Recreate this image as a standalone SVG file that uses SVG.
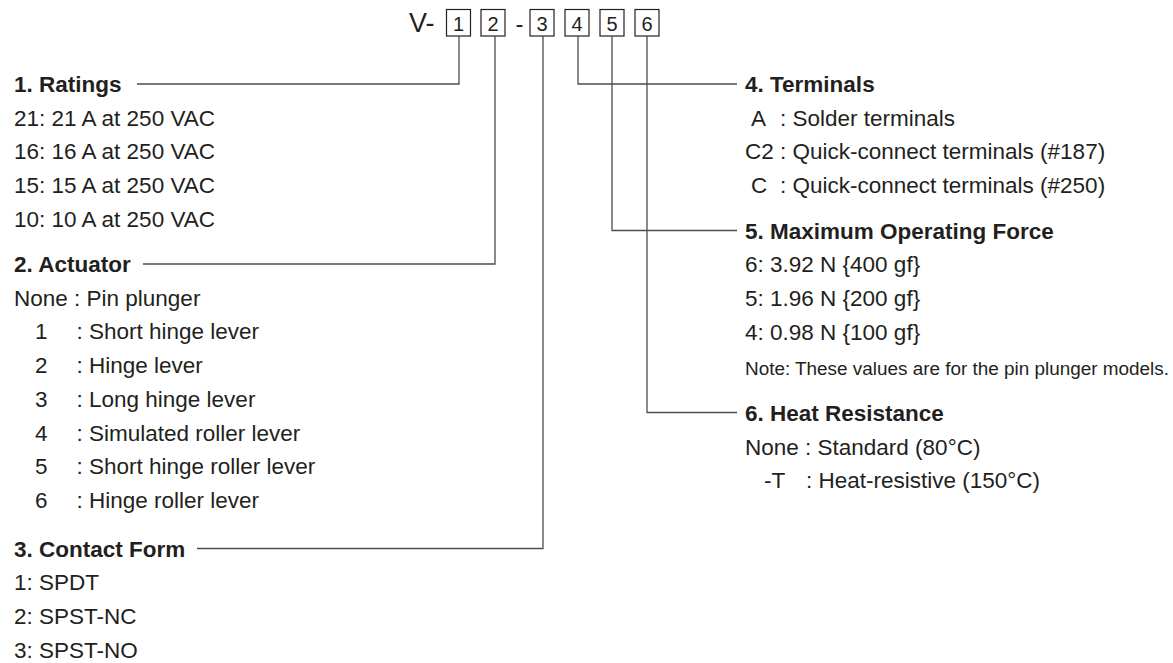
<svg xmlns="http://www.w3.org/2000/svg" width="1173" height="663" viewBox="0 0 1173 663">
<style>
text{font-family:"Liberation Sans",Arial,Helvetica,sans-serif;fill:#231f20;}
.t{font-size:22.5px;}
.h{font-size:22.5px;font-weight:bold;}
.n{font-size:18.9px;}
.code{font-size:27px;}
.dig{font-size:20px;text-anchor:middle;}
.box{fill:none;stroke:#231f20;stroke-width:1.2;}
.ln{fill:none;stroke:#4d4d4d;stroke-width:1.3;}
</style>
<rect width="1173" height="663" fill="#ffffff"/>
<g id="code">
<text class="code" x="409" y="32">V-</text>
<rect class="box" x="446.5" y="9.5" width="24" height="26.5"/>
<rect class="box" x="481" y="9.5" width="24" height="26.5"/>
<text class="code" x="515.5" y="32" style="font-size:24px">-</text>
<rect class="box" x="530" y="9.5" width="24" height="26.5"/>
<rect class="box" x="565" y="9.5" width="24" height="26.5"/>
<rect class="box" x="600" y="9.5" width="24" height="26.5"/>
<rect class="box" x="635" y="9.5" width="24" height="26.5"/>
<text class="dig" x="458.5" y="31">1</text>
<text class="dig" x="493" y="31">2</text>
<text class="dig" x="542" y="31">3</text>
<text class="dig" x="577" y="31">4</text>
<text class="dig" x="612" y="31">5</text>
<text class="dig" x="647" y="31">6</text>
</g>
<g id="connectors">
<polyline class="ln" points="459,36 459,84 137,84"/>
<polyline class="ln" points="495,36 495,264 143,264"/>
<polyline class="ln" points="543,36 543,548.5 197,548.5"/>
<polyline class="ln" points="578,36 578,84 737,84"/>
<polyline class="ln" points="612,36 612,230.5 737,230.5"/>
<polyline class="ln" points="647,36 647,412.5 737,412.5"/>
</g>
<g id="ratings">
<text class="h" x="14" y="92">1. Ratings</text>
<text class="t" x="14" y="125.7">21: 21 A at 250 VAC</text>
<text class="t" x="14" y="159.4">16: 16 A at 250 VAC</text>
<text class="t" x="14" y="193.1">15: 15 A at 250 VAC</text>
<text class="t" x="14" y="226.8">10: 10 A at 250 VAC</text>
</g>
<g id="actuator">
<text class="h" x="14" y="272">2. Actuator</text>
<text class="t" x="14" y="305.7">None : Pin plunger</text>
<text class="t" y="339.4"><tspan x="35">1</tspan><tspan x="76.5">: Short hinge lever</tspan></text>
<text class="t" y="373.1"><tspan x="35">2</tspan><tspan x="76.5">: Hinge lever</tspan></text>
<text class="t" y="406.8"><tspan x="35">3</tspan><tspan x="76.5">: Long hinge lever</tspan></text>
<text class="t" y="440.5"><tspan x="35">4</tspan><tspan x="76.5">: Simulated roller lever</tspan></text>
<text class="t" y="474.2"><tspan x="35">5</tspan><tspan x="76.5">: Short hinge roller lever</tspan></text>
<text class="t" y="507.9"><tspan x="35">6</tspan><tspan x="76.5">: Hinge roller lever</tspan></text>
</g>
<g id="contact-form">
<text class="h" x="14" y="556.5">3. Contact Form</text>
<text class="t" x="14" y="590.2">1: SPDT</text>
<text class="t" x="14" y="623.9">2: SPST-NC</text>
<text class="t" x="14" y="657.6">3: SPST-NO</text>
</g>
<g id="terminals">
<text class="h" x="745" y="92">4. Terminals</text>
<text class="t" y="125.7"><tspan x="751">A</tspan><tspan x="780">: Solder terminals</tspan></text>
<text class="t" x="745" y="159.4">C2 : Quick-connect terminals (#187)</text>
<text class="t" y="193.1"><tspan x="751">C</tspan><tspan x="780">: Quick-connect terminals (#250)</tspan></text>
</g>
<g id="operating-force">
<text class="h" x="745" y="238.5">5. Maximum Operating Force</text>
<text class="t" x="745" y="272.2">6: 3.92 N {400 gf}</text>
<text class="t" x="745" y="305.9">5: 1.96 N {200 gf}</text>
<text class="t" x="745" y="339.6">4: 0.98 N {100 gf}</text>
<text class="n" x="745" y="375">Note: These values are for the pin plunger models.</text>
</g>
<g id="heat-resistance">
<text class="h" x="745" y="421">6. Heat Resistance</text>
<text class="t" x="745" y="454.7">None : Standard (80°C)</text>
<text class="t" y="488.4"><tspan x="764">-T</tspan><tspan x="806">: Heat-resistive (150°C)</tspan></text>
</g>
</svg>
